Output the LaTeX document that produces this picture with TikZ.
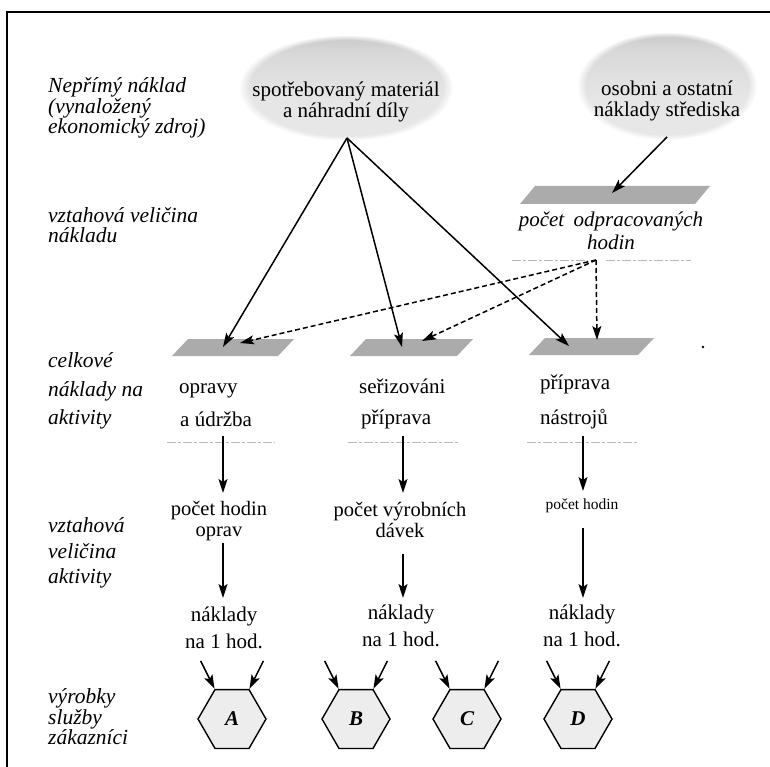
\documentclass[tikz,border=0pt]{standalone}
\usepackage{fontspec}
\setmainfont{Liberation Serif}
\usetikzlibrary{arrows.meta,shapes.geometric,calc,fadings}

% grey cloud shading: dark band on top, light below
\pgfdeclareverticalshading{cloudshade}{100bp}{color(0bp)=(gray!16); color(45bp)=(gray!20); color(66bp)=(gray!30); color(82bp)=(gray!52); color(100bp)=(gray!58)}

\begin{document}
\begin{tikzpicture}[x=1pt,y=-1pt,
  txt/.style={font=\fontsize{21}{21}\selectfont, inner sep=0pt, align=center},
  lbl/.style={font=\fontsize{21.5}{20.5}\selectfont\itshape, inner sep=0pt, align=left, anchor=west},
  cloud/.style={shading=cloudshade, path fading=circle with fuzzy edge 10 percent},
  slab/.style={fill=gray!66},
  faint/.style={draw=gray!55, line width=0.9pt, dash pattern=on 9pt off 2pt on 3pt off 2pt},
  arr/.style={line width=1.5pt, -{Stealth[length=14pt,width=9pt,inset=3pt]}},
  darr/.style={arr, dash pattern=on 5pt off 3pt},
  hexbox/.style={regular polygon, regular polygon sides=6, minimum size=68pt, inner sep=0pt,
    draw, line width=1.4pt, fill=gray!14, font=\fontsize{21}{21}\selectfont\bfseries\itshape}
]
\useasboundingbox (0,0) rectangle (770,767);

% frame
\draw[line width=1.8pt] (7,767) -- (7,12) -- (770,12);

% row labels
\node[lbl] (l1) at (48,108) {Nepřímý náklad\\(vynaložený\\ekonomický zdroj)};
\node[lbl] (l2) at (48,225) {vztahová veličina\\nákladu};
\node[lbl, font=\fontsize{21.5}{28.5}\selectfont\itshape] (l3) at (48,391) {celkové\\náklady na\\aktivity};
\node[lbl, font=\fontsize{21.5}{25.5}\selectfont\itshape] (l4) at (48,553) {vztahová\\veličina\\aktivity};
\node[lbl] (l5) at (48,717) {výrobky\\služby\\zákazníci};

% resource clouds
\shade[cloud] (346,88) ellipse [x radius=107pt, y radius=53pt];
\shade[cloud] (667,86) ellipse [x radius=90pt, y radius=54pt];
\node[ellipse, minimum width=214pt, minimum height=100pt, inner sep=0pt] (mat) at (346,88) {};
\node[ellipse, minimum width=180pt, minimum height=102pt, inner sep=0pt] (oso) at (667,86) {};
\node[txt] (matt) at (346,102) {spotřebovaný materiál\\a náhradní díly};
\node[txt] (osot) at (667,101) {osobni a ostatní\\náklady střediska};

% cost driver slab (hours worked)
\fill[slab] (520,204) -- (535,186) -- (710,186) -- (695,204) -- cycle;
\coordinate (hrsin) at (612,193);
\node[txt, font=\fontsize{21}{23}\selectfont\itshape] (hrs) at (611,231) {počet\hspace{0.45em}odpracovaných\\hodin};
\draw[faint] (512,260) -- (588,260);
\draw[faint] (606,260) -- (691,260);
\coordinate (hrsout) at (596,260);

% activity cost pools
\fill[slab] (172,356) -- (188,339) -- (294,339) -- (278,356) -- cycle;
\fill[slab] (350,356) -- (366,339) -- (473,339) -- (457,356) -- cycle;
\fill[slab] (529,355) -- (545,338) -- (654,338) -- (638,355) -- cycle;
\coordinate (p1s) at (223,347);
\coordinate (p1d) at (240,343);
\coordinate (p2s) at (402,347);
\coordinate (p2d) at (422,341);
\coordinate (p3s) at (569,346);
\coordinate (p3d) at (597,340);
\fill (703,347) circle (1.3pt);

% arrows into the pools
\coordinate (osofoot) at (667,137);
\draw[arr] (osofoot) -- (hrsin);
\coordinate (matfoot) at (347,138);
\draw[arr] (matfoot) -- (p1s);
\draw[arr] (matfoot) -- (p2s);
\draw[arr] (matfoot) -- (p3s);
\draw[darr] (hrsout) -- (p1d);
\draw[darr] (hrsout) -- (p2d);
\draw[darr] (hrsout) -- (p3d);

% activity names
\node[txt, anchor=west] (a1) at (179,391) {opravy};
\node[txt, anchor=west] (a1b) at (180,419) {a údržba};
\node[txt, anchor=west] (a2) at (359,386) {seřizováni};
\node[txt, anchor=west] (a2b) at (361,419) {příprava};
\node[txt, anchor=west] (a3) at (540,384) {příprava};
\node[txt, anchor=west] (a3b) at (540,419) {nástrojů};
\draw[faint] (167,442) -- (275,442);
\draw[faint] (348,442) -- (458,442);
\draw[faint] (527,442) -- (637,442);

% activity drivers
\node[txt, font=\fontsize{20.5}{21}\selectfont] (d1) at (219,521) {počet hodin\\oprav};
\node[txt, font=\fontsize{20.5}{21}\selectfont] (d2) at (400,520) {počet výrobních\\dávek};
\node[txt, font=\fontsize{15.5}{15.5}\selectfont] (d3) at (582,506) {počet hodin};
\coordinate (c1t) at (223,436); \coordinate (c1m) at (223,493);
\coordinate (c2t) at (403,436); \coordinate (c2m) at (403,493);
\coordinate (c3t) at (583,436); \coordinate (c3m) at (583,491);
\draw[arr] (c1t) -- (c1m);
\draw[arr] (c2t) -- (c2m);
\draw[arr] (c3t) -- (c3m);

% rates
\node[txt, font=\fontsize{21}{27}\selectfont] (r1) at (224,628) {náklady\\na 1 hod.};
\node[txt, font=\fontsize{21}{27}\selectfont] (r2) at (401,626) {náklady\\na 1 hod.};
\node[txt, font=\fontsize{21}{27}\selectfont] (r3) at (582,626) {náklady\\na 1 hod.};
\coordinate (e1t) at (223,543); \coordinate (e1b) at (223,598);
\coordinate (e2t) at (403,554); \coordinate (e2b) at (403,598);
\coordinate (e3t) at (583,528); \coordinate (e3b) at (583,598);
\draw[arr] (e1t) -- (e1b);
\draw[arr] (e2t) -- (e2b);
\draw[arr] (e3t) -- (e3b);

% cost objects
\node[hexbox] (A) at (232,719) {A};
\node[hexbox] (B) at (356,719) {B};
\node[hexbox] (C) at (467,719) {C};
\node[hexbox] (D) at (578,719) {D};
\foreach \h in {A,B,C,D}{
  \coordinate (\h l) at ($(\h.120)+(-14,-28)$);
  \coordinate (\h r) at ($(\h.60)+(14,-28)$);
  \draw[arr] (\h l) -- (\h.120);
  \draw[arr] (\h r) -- (\h.60);
}
\end{tikzpicture}
\end{document}
